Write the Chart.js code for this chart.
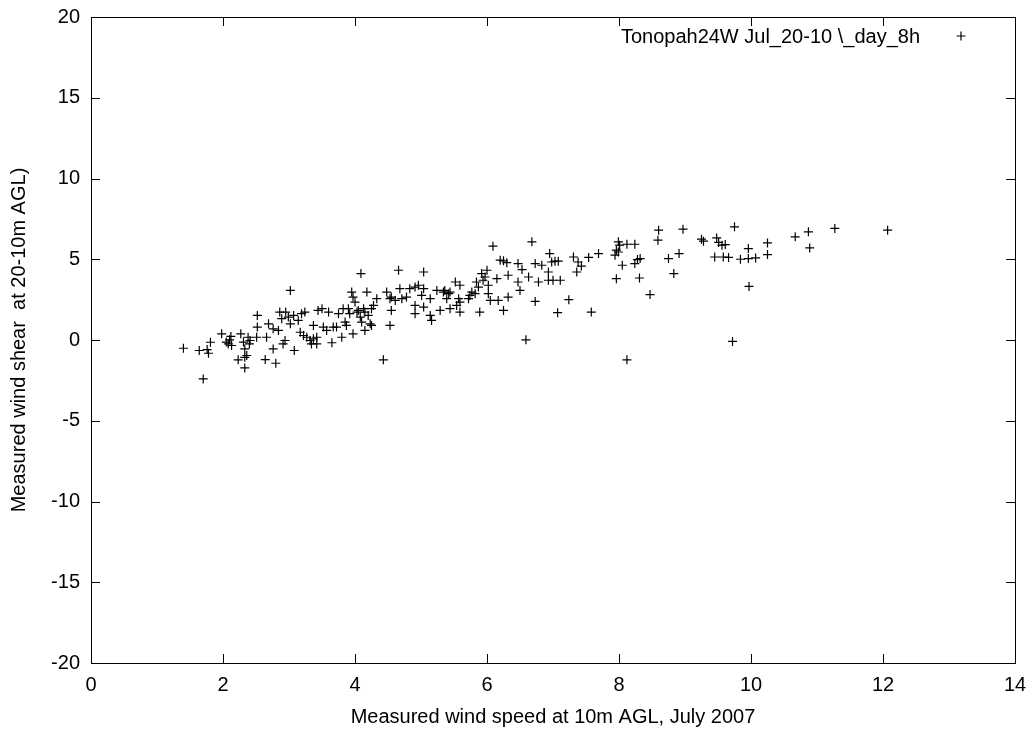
<!DOCTYPE html>
<html>
<head>
<meta charset="utf-8">
<script src="https://cdn.jsdelivr.net/npm/chart.js@4.4.0/dist/chart.umd.min.js"></script>
<style>
    html, body { margin: 0; padding: 0; background: #ffffff; }
    #box { width: 1034px; height: 731px; }
</style>
</head>
<body>
<div id="box"><canvas id="windShear"></canvas></div>
<script>
const seriesLabel = "Tonopah24W Jul_20-10 \\_day_8h";
const xTitle = "Measured wind speed at 10m AGL, July 2007";
const yTitle = "Measured wind shear  at 20-10m AGL)";
const xTicks = [0, 2, 4, 6, 8, 10, 12, 14];
const yTicks = [-20, -15, -10, -5, 0, 5, 10, 15, 20];

// wind speed at 10m (m/s)
const windSpeed = [
    1.40, 1.70, 1.64, 1.76, 1.78, 1.81, 1.98, 2.05, 2.08, 2.12, 2.13, 2.10,
    2.27, 2.31, 2.33, 2.38, 2.41, 2.40, 2.23, 2.33, 2.36, 2.33, 2.52, 2.52,
    2.51, 2.66, 2.64, 2.80, 2.76, 2.69, 2.76, 2.84, 2.86, 2.89, 2.95, 3.02,
    2.99, 2.94, 2.91, 3.02, 3.07, 3.08,
    3.14, 3.19, 3.24, 3.17, 3.22, 3.27, 3.32, 3.37, 3.42, 3.34, 3.42, 3.37,
    3.44, 3.50, 3.52, 3.60, 3.57, 3.65, 3.67, 3.72, 3.75, 3.80, 3.82, 3.85,
    3.87, 3.90, 3.92, 3.97, 3.95, 3.97, 4.00, 4.03, 4.05, 4.08, 4.10, 4.13,
    4.15, 4.18, 4.15, 4.20, 4.23, 4.25, 4.28, 4.33, 4.25, 4.09, 4.66, 4.43,
    4.48, 4.53, 4.55, 4.61, 4.71, 4.68, 4.78, 4.83, 4.91, 4.96, 4.55, 4.53,
    4.91, 4.91,
    6.09, 6.68, 6.59, 6.20, 6.25, 6.30, 6.47, 6.53, 6.73, 6.78, 6.83, 6.73,
    6.63, 6.47, 6.50, 6.32, 6.32, 6.25, 6.15, 6.17, 6.05, 6.02, 6.00, 5.97,
    5.94, 6.02, 5.89, 5.92, 5.84, 5.87, 5.82, 5.74, 5.77, 5.72, 5.59, 5.59,
    5.57, 5.54, 5.52, 5.59, 5.44, 5.42, 5.39, 5.44, 5.36, 5.34, 5.29, 5.24,
    5.14, 5.14, 5.16, 5.04, 5.04, 5.01, 5.04,
    8.60, 8.59, 8.12, 8.47, 8.31, 7.96, 8.05, 8.24, 8.28, 8.32, 8.75, 7.99,
    8.01, 7.96, 7.99, 7.94, 8.12, 8.24, 7.69, 7.54, 7.58, 7.07, 7.24, 7.31,
    7.38, 7.43, 7.36, 6.95, 6.98, 7.03, 7.08, 6.93, 6.93, 7.00, 7.11,
    8.97, 9.25, 9.28, 9.75, 9.48, 9.51, 9.56, 9.61, 9.45, 9.58, 9.66, 8.91,
    8.83, 9.84, 9.96, 10.07, 9.96, 10.25, 10.25, 9.97, 9.72, 10.67,
    10.87, 10.89, 11.27, 12.07
];

// wind shear 20-10m
const windShear = [
    -0.51, -2.41, -0.65, -0.59, -0.82, -0.14, 0.38, -0.13, -0.24, 0.22, -0.34, 0.01,
    0.38, -0.13, -0.55, 0.17, -0.03, -0.24, -1.23, -1.07, -0.96, -1.73, 1.52, 0.80,
    0.17, 0.17, -1.21, -1.44, -0.55, 1.00, 0.69, 0.59, 1.73, 1.32, 1.73, 1.00,
    1.42, -0.03, -0.24, 3.07, 1.52, -0.65,
    1.21, 1.63, 1.73, 0.48, 0.28, 0.17, -0.03, 0.07, 0.17, -0.24, -0.24, 0.90,
    1.83, 1.94, 0.80, 1.73, 0.59, -0.17, 0.80, 0.80, 1.63, 0.17, 1.94, 1.11,
    0.90, 1.94, 1.63, 0.38, 2.97, 2.66, 2.35, 1.73, 1.83, 1.42, 1.11, 1.94,
    1.73, 2.97, 0.59, 1.52, 1.00, 1.94, 2.14, 2.56, 0.90, 4.11, 4.32, -1.23,
    2.97, 2.56, 2.66, 2.45, 2.56, 3.18, 2.66, 3.18, 3.28, 3.39, 1.83, 0.90,
    2.14, 1.63,
    5.81, 6.08, 0.01, 4.94, 4.90, 4.79, 4.73, 4.36, 4.73, 3.59, 4.63, 2.39,
    3.90, 3.59, 3.07, 4.01, 2.66, 1.83, 3.80, 2.45, 2.45, 2.87, 4.32, 3.90,
    3.70, 3.39, 1.73, 4.11, 3.59, 3.28, 2.87, 2.76, 2.97, 2.56, 1.73, 2.35,
    2.56, 2.14, 3.59, 3.39, 1.94, 2.87, 2.56, 2.97, 3.07, 2.97, 1.83, 3.07,
    2.56, 1.52, 1.21, 4.21, 3.18, 2.76, 2.04,
    6.80, 6.18, -1.23, 2.81, 3.84, 3.80, 4.63, 4.73, 4.98, 5.04, 5.04, 6.08,
    5.87, 5.56, 5.45, 5.25, 5.93, 5.93, 5.35, 5.11, 1.73, 1.69, 2.50, 5.14,
    4.83, 4.58, 4.21, 5.35, 4.83, 4.88, 4.88, 4.21, 3.70, 3.70, 3.70,
    6.86, 6.24, 6.12, 7.01, 6.32, 6.04, 5.87, 5.91, 5.14, 5.14, 5.11, 5.35,
    4.11, 5.00, 5.04, 5.08, 5.66, 6.01, 5.29, 3.32, -0.09, 6.39,
    6.70, 5.70, 6.91, 6.80
];

const schrift = "'Liberation Sans', Arial, sans-serif";
const punkte = windSpeed.map((x, i) => ({ x: x, y: windShear[i] }));

// gnuplot-artiger Rahmen mit Ticks nach innen + Legende oben rechts
const rahmen = {
    id: "rahmen",
    afterDraw(chart) {
        const ctx = chart.ctx;
        const a = chart.chartArea;
        const sx = chart.scales.x;
        const sy = chart.scales.y;
        const len = 9;
        ctx.save();
        ctx.strokeStyle = "#000000";
        ctx.lineWidth = 1;
        ctx.beginPath();
        xTicks.forEach((t) => {
            const p = Math.round(sx.getPixelForValue(t)) + 0.5;
            ctx.moveTo(p, a.bottom);
            ctx.lineTo(p, a.bottom - len);
            ctx.moveTo(p, a.top);
            ctx.lineTo(p, a.top + len);
        });
        yTicks.forEach((t) => {
            const p = Math.round(sy.getPixelForValue(t)) + 0.5;
            ctx.moveTo(a.left, p);
            ctx.lineTo(a.left + len, p);
            ctx.moveTo(a.right, p);
            ctx.lineTo(a.right - len, p);
        });
        ctx.stroke();
        ctx.strokeRect(Math.round(a.left) + 0.5, Math.round(a.top) + 0.5,
            Math.round(a.right - a.left), Math.round(a.bottom - a.top));

        // legend
        ctx.fillStyle = "#000000";
        ctx.font = "20px " + schrift;
        ctx.textAlign = "right";
        ctx.textBaseline = "alphabetic";
        ctx.fillText(seriesLabel, a.right - 95, a.top + 26);
        const mx = a.right - 54;
        const my = a.top + 19;
        ctx.lineWidth = 1.2;
        ctx.beginPath();
        ctx.moveTo(mx - 4.5, my);
        ctx.lineTo(mx + 4.5, my);
        ctx.moveTo(mx, my - 4.5);
        ctx.lineTo(mx, my + 4.5);
        ctx.stroke();
        ctx.restore();
    },
};

new Chart(document.getElementById("windShear"), {
    type: "scatter",
    data: {
        datasets: [
            {
                label: seriesLabel,
                data: punkte,
                pointStyle: "cross",
                pointRadius: 4.5,
                pointHoverRadius: 4.5,
                borderWidth: 1.2,
                borderColor: "#000000",
                backgroundColor: "#000000",
            },
        ],
    },
    options: {
        responsive: true,
        maintainAspectRatio: false,
        animation: false,
        events: [],
        layout: { padding: { top: 17, right: 19, left: 0, bottom: 0 } },
        plugins: {
            legend: { display: false },
            tooltip: { enabled: false },
        },
        scales: {
            x: {
                type: "linear",
                min: 0,
                max: 14,
                afterFit: (scale) => {
                    scale.height = 68;
                    scale.paddingLeft = 0;
                    scale.paddingRight = 0;
                },
                afterBuildTicks: (scale) => { scale.ticks = xTicks.map((v) => ({ value: v })); },
                grid: { display: false, drawTicks: false },
                border: { display: false },
                ticks: {
                    color: "#000000",
                    padding: 10,
                    maxRotation: 0,
                    font: { family: schrift, size: 20 },
                },
                title: {
                    display: true,
                    text: xTitle,
                    color: "#000000",
                    padding: { top: 2, bottom: 2 },
                    font: { family: schrift, size: 20 },
                },
            },
            y: {
                type: "linear",
                min: -20,
                max: 20,
                afterFit: (scale) => {
                    scale.width = 91;
                    scale.paddingTop = 0;
                    scale.paddingBottom = 0;
                },
                afterBuildTicks: (scale) => { scale.ticks = yTicks.map((v) => ({ value: v })); },
                grid: { display: false, drawTicks: false },
                border: { display: false },
                ticks: {
                    color: "#000000",
                    padding: 11,
                    font: { family: schrift, size: 20 },
                },
                title: {
                    display: true,
                    text: yTitle,
                    color: "#000000",
                    padding: { top: 7, bottom: 0 },
                    font: { family: schrift, size: 20 },
                },
            },
        },
    },
    plugins: [rahmen],
});
</script>
</body>
</html>
